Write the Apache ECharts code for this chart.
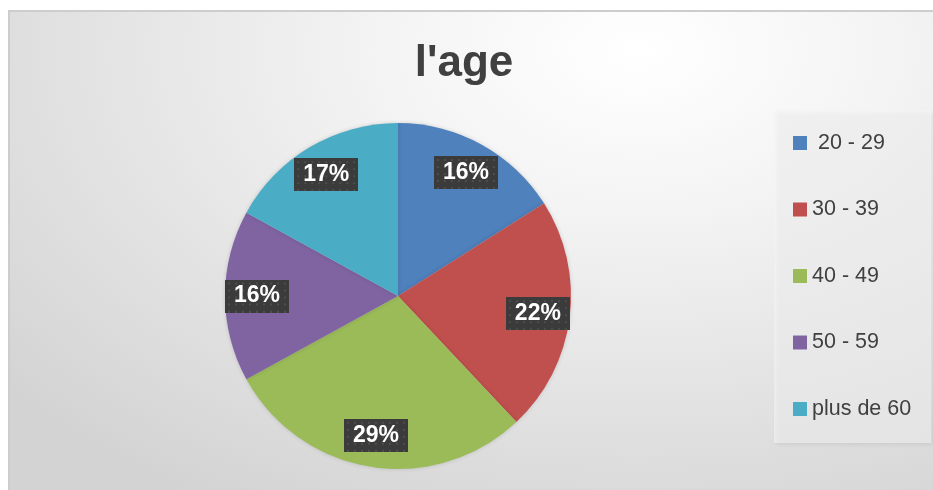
<!DOCTYPE html>
<html>
<head>
<meta charset="utf-8">
<script src="https://cdn.jsdelivr.net/npm/echarts@6/dist/echarts.min.js"></script>
<style>
  html, body { margin: 0; padding: 0; background: #ffffff; }
  #frame {
    position: absolute; left: 8px; top: 10px; width: 925px; height: 480px;
    border-left: 2px solid #cdcdcd; border-top: 2px solid #cdcdcd;
    box-sizing: border-box;
    background: radial-gradient(ellipse 90% 110% at 68% 8%, #ffffff 0%, #f4f4f4 30%, #d3d3d3 100%);
  }
  #chart { width: 923px; height: 478px; }
</style>
</head>
<body>
<div id="frame"><div id="chart"></div></div>
<script>
// data
const categories = [' 20 - 29', '30 - 39', '40 - 49', '50 - 59', 'plus de 60'];
const shares = [16, 22, 29, 16, 17];
const colors = ['#4f81bd', '#c0504d', '#9bbb59', '#8064a2', '#4bacc6'];

// dotted dark tile for the label boxes
function labelTile() {
  const c = document.createElement('canvas');
  c.width = 64; c.height = 33;
  const g = c.getContext('2d');
  g.fillStyle = '#3b3b3b';
  g.fillRect(0, 0, 64, 33);
  g.fillStyle = '#4d4d4d';
  for (let y = 3; y < 33; y += 7) {
    for (let x = 3; x < 64; x += 7) g.fillRect(x, y, 2, 2);
  }
  return c.toDataURL();
}

const chart = echarts.init(document.getElementById('chart'));
const pieData = categories.map((name, i) => ({ name, value: shares[i] }));

chart.setOption({
  color: colors,
  animation: false,
  title: {
    text: "l'age",
    left: 449,
    top: 25,
    textAlign: 'center',
    textStyle: { fontFamily: 'Liberation Sans', fontSize: 44, fontWeight: 'bold', color: '#404040' }
  },
  legend: {
    orient: 'vertical',
    left: 764,
    top: 98,
    padding: [22, 20, 23, 19],
    backgroundColor: 'rgba(245,245,245,0.55)',
    shadowColor: 'rgba(0,0,0,0.12)',
    shadowBlur: 4,
    shadowOffsetX: 2,
    shadowOffsetY: 2,
    itemWidth: 14,
    itemHeight: 14,
    itemGap: 44.5,
    icon: 'rect',
    data: categories,
    textStyle: { fontFamily: 'Liberation Sans', fontSize: 21.5, lineHeight: 22, color: '#404040' }
  },
  series: [
    {
      type: 'pie',
      center: [388, 284],
      radius: [0, 173],
      startAngle: 90,
      clockwise: true,
      silent: true,
      label: { show: false },
      labelLine: { show: false },
      itemStyle: { shadowColor: 'rgba(0,0,0,0.15)', shadowBlur: 4 },
      data: pieData
    },
    {
      // transparent ring used only to place the percentage labels
      type: 'pie',
      center: [388, 284],
      radius: [108, 168],
      startAngle: 90,
      clockwise: true,
      silent: true,
      itemStyle: { color: 'rgba(0,0,0,0)' },
      labelLine: { show: false },
      label: {
        show: true,
        position: 'inside',
        formatter: '{c}%',
        fontFamily: 'Liberation Sans',
        fontSize: 23,
        fontWeight: 'bold',
        color: '#ffffff',
        width: 50,
        height: 19,
        lineHeight: 19,
        overflow: 'none',
        align: 'center',
        padding: [7, 7],
        backgroundColor: { image: labelTile() },
        shadowColor: 'rgba(0,0,0,0.45)',
        shadowBlur: 6,
        shadowOffsetX: 3,
        shadowOffsetY: 3
      },
      data: pieData
    }
  ]
});
</script>
</body>
</html>
